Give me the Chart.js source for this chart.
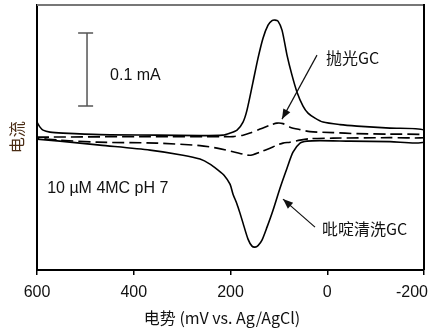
<!DOCTYPE html>
<html>
<head>
<meta charset="utf-8">
<script src="https://cdn.jsdelivr.net/npm/chart.js@4/dist/chart.umd.min.js"></script>
<style>
  html, body { margin: 0; padding: 0; background: #fff; }
  #wrap { width: 433px; height: 330px; position: relative; }
</style>
</head>
<body>
<div id="wrap"><canvas id="c" width="433" height="330"></canvas></div>
<script>
// ---- Data (potential in mV vs Ag/AgCl, current in µA) ----
// Pyridine-cleaned GC (solid): forward (upper) branch then reverse (lower) branch
const solidUpperX = [600, 593.8, 587.6, 573.1, 546.3, 469.8, 351.9, 263.0, 215.5, 201.0, 186.5, 174.1, 165.9, 153.5, 143.1, 132.8, 122.4, 114.2, 108.0, 101.8, 93.5, 83.2, 72.9, 62.5, 50.1, 39.8, 25.3, 8.8, -26.4, -61.5, -129.7, -200];
const solidUpperY = [20.6, 13.7, 9.6, 6.9, 5.5, 3.4, 2.7, 2.1, 2.7, 5.5, 9.6, 20.6, 37.0, 75.4, 108.3, 135.6, 153.4, 159.6, 160.3, 158.9, 146.6, 112.4, 84.9, 61.6, 42.5, 32.9, 26.0, 20.6, 17.1, 15.1, 12.3, 9.6];
const solidLowerX = [-200, -129.7, -47.0, 15.0, 41.9, 56.3, 70.8, 83.2, 97.7, 112.1, 124.5, 134.9, 143.1, 149.4, 155.6, 163.8, 174.1, 180.4, 186.5, 194.8, 201.0, 213.4, 225.8, 242.4, 263.0, 298.2, 366.4, 469.8, 552.5, 600];
const solidLowerY = [-6.9, -6.2, -5.5, -4.8, -5.5, -8.2, -20.6, -42.5, -69.9, -100.1, -123.3, -141.1, -148.6, -150.7, -149.3, -139.7, -117.8, -104.1, -91.8, -78.1, -64.4, -52.1, -45.2, -37.0, -30.1, -24.7, -17.8, -11.0, -5.5, -2.7];

// Polished GC (dashed)
const dashUpperX = [600, 366.4, 215.5, 194.8, 174.1, 159.7, 139.0, 118.3, 103.9, 91.5, 77.0, 56.3, 35.7, -11.9, -61.5, -129.7, -200];
const dashUpperY = [0.0, 0.7, 0.7, 0.7, 2.7, 5.5, 11.0, 16.4, 19.2, 18.5, 13.7, 10.3, 7.5, 6.2, 4.8, 4.1, 3.4];
const dashLowerX = [-200, -129.7, -11.9, 35.7, 56.3, 77.0, 91.5, 103.9, 118.3, 139.0, 153.5, 163.8, 174.1, 194.8, 227.9, 263.0, 351.9, 476.0, 552.5, 600];
const dashLowerY = [-0.7, -0.7, -1.4, -2.1, -4.1, -6.9, -8.2, -11.0, -15.1, -20.6, -24.0, -24.7, -23.3, -19.9, -15.1, -11.6, -8.2, -6.9, -4.1, -1.4];

// Scale bar (0.1 mA = 100 µA)
const scaleBarX = [515, 484, 496.6, 496.6, 515, 484];
const scaleBarY = [142.5, 142.5, 142.5, 42.5, 42.5, 42.5];

const xTickValues = [600, 400, 200, 0, -200];
const xTickLabels = ['600', '400', '200', '0', '-200'];
const xTitle = '电势 (mV vs. Ag/AgCl)';
const yTitle = '电流';
const seriesNames = ['吡啶清洗GC', '抛光GC'];

const zip = (xs, ys) => xs.map((v, i) => ({ x: v, y: ys[i] }));
const solidData = zip(solidUpperX, solidUpperY).concat(zip(solidLowerX, solidLowerY));
const dashData = zip(dashUpperX, dashUpperY).concat(zip(dashLowerX, dashLowerY));
const barData = zip(scaleBarX, scaleBarY);

const LATIN = '"Liberation Sans", Arial, "Noto Sans CJK SC", sans-serif';
const CJK = '"Noto Sans CJK SC", "Liberation Sans", sans-serif';

function arrow(ctx, x1, y1, x2, y2) {
  ctx.beginPath(); ctx.moveTo(x1, y1); ctx.lineTo(x2, y2); ctx.stroke();
  const ang = Math.atan2(y2 - y1, x2 - x1), L = 10, W = 4;
  ctx.beginPath();
  ctx.moveTo(x2, y2);
  ctx.lineTo(x2 - L * Math.cos(ang) + W * Math.sin(ang), y2 - L * Math.sin(ang) - W * Math.cos(ang));
  ctx.lineTo(x2 - L * Math.cos(ang) - W * Math.sin(ang), y2 - L * Math.sin(ang) + W * Math.cos(ang));
  ctx.closePath(); ctx.fill();
}

const annot = {
  id: 'annot',
  afterDraw(chart) {
    const { ctx, chartArea: a, scales: { x, y } } = chart;
    ctx.save();
    // frame: top (gray) and right (black)
    ctx.lineWidth = 2;
    ctx.strokeStyle = '#777';
    ctx.beginPath(); ctx.moveTo(a.left, a.top); ctx.lineTo(a.right, a.top); ctx.stroke();
    ctx.strokeStyle = '#000';
    ctx.beginPath(); ctx.moveTo(a.right, a.top - 1); ctx.lineTo(a.right, a.bottom); ctx.stroke();

    // x tick labels
    ctx.fillStyle = '#111';
    ctx.font = '16px ' + LATIN;
    ctx.textBaseline = 'middle';
    ctx.textAlign = 'left';
    xTickValues.forEach((v, i) => {
      const px = x.getPixelForValue(v);
      const w = ctx.measureText(xTickLabels[i]).width;
      let left = px - w / 2;
      if (left + w > chart.width - 5) left = chart.width - 5 - w;
      ctx.fillText(xTickLabels[i], left, 293);
    });
    // x title
    ctx.textAlign = 'center';
    ctx.font = '16px ' + CJK;
    ctx.fillText(xTitle, 222, 318);
    // y title
    ctx.save();
    ctx.translate(17, y.getPixelForValue(0));
    ctx.rotate(-Math.PI / 2);
    ctx.fillStyle = '#4a2c14';
    ctx.fillText(yTitle, 0, 0);
    ctx.restore();

    // annotations
    ctx.textAlign = 'left';
    ctx.fillStyle = '#111';
    ctx.font = '16px ' + LATIN;
    ctx.fillText('0.1 mA', x.getPixelForValue(449), y.getPixelForValue(84.9));
    ctx.fillText('10 \u00B5M 4MC pH 7', x.getPixelForValue(579), y.getPixelForValue(-69.9));
    ctx.font = '16px ' + CJK;
    ctx.fillText(seriesNames[1], x.getPixelForValue(2.6), y.getPixelForValue(108));
    ctx.fillText(seriesNames[0], x.getPixelForValue(10.9), y.getPixelForValue(-126));

    // arrows
    ctx.strokeStyle = '#111'; ctx.fillStyle = '#111'; ctx.lineWidth = 1.2;
    arrow(ctx, x.getPixelForValue(21.2), y.getPixelForValue(112.3), x.getPixelForValue(93.5), y.getPixelForValue(24.7));
    arrow(ctx, x.getPixelForValue(25.3), y.getPixelForValue(-123.3), x.getPixelForValue(91.5), y.getPixelForValue(-84.9));
    ctx.restore();
  }
};

new Chart(document.getElementById('c'), {
  type: 'line',
  data: {
    datasets: [
      { label: seriesNames[0], data: solidData, borderColor: '#000', borderWidth: 1.6, pointRadius: 0, tension: 0.25, fill: false },
      { label: seriesNames[1], data: dashData, borderColor: '#000', borderWidth: 1.6, borderDash: [12, 5], pointRadius: 0, tension: 0.25, fill: false },
      { label: 'scale', data: barData, borderColor: '#555', borderWidth: 1.5, pointRadius: 0, tension: 0, fill: false }
    ]
  },
  options: {
    responsive: false,
    animation: false,
    devicePixelRatio: 1,
    parsing: true,
    layout: { padding: { top: 5, right: 9, left: 0, bottom: 0 } },
    plugins: { legend: { display: false }, tooltip: { enabled: false } },
    scales: {
      x: {
        type: 'linear', reverse: true, min: -200, max: 600,
        ticks: { stepSize: 200, display: false },
        grid: { drawOnChartArea: false, drawTicks: true, tickLength: 5, color: '#000', lineWidth: 1.5 },
        border: { display: true, color: '#000', width: 2 },
        afterFit: s => { s.height = 60; }
      },
      y: {
        type: 'linear', min: -182, max: 181,
        ticks: { display: false },
        grid: { drawOnChartArea: false, drawTicks: false },
        border: { display: true, color: '#000', width: 2 },
        afterFit: s => { s.width = 37; }
      }
    }
  },
  plugins: [annot]
});
</script>
</body>
</html>
